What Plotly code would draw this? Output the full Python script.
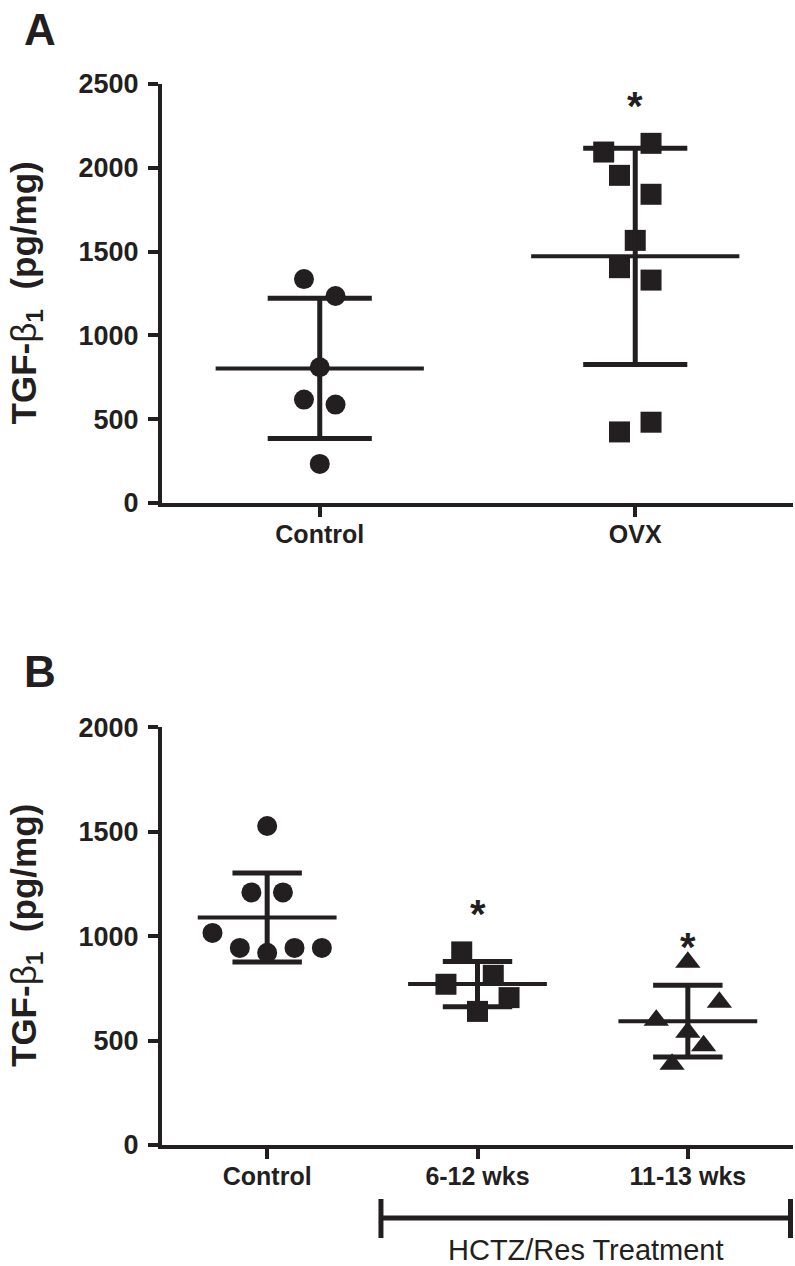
import numpy as np
import plotly.graph_objects as go

# ---------------- data ----------------
a_categories = ["Control", "OVX"]
a_control = [1336, 1235, 810, 617, 587, 233]
a_ovx = [2094, 2146, 1955, 1842, 1567, 1404, 1330, 482, 424]
a_ticks = [0, 500, 1000, 1500, 2000, 2500]
a_sig = ["", "*"]
a_sig_y = [None, 2420]

b_categories = ["Control", "6-12 wks", "11-13 wks"]
b_control = [1528, 1210, 1210, 1016, 944, 921, 944, 944]
b_6_12 = [925, 813, 770, 706, 640]
b_11_13 = [876, 684, 598, 540, 475, 387]
b_ticks = [0, 500, 1000, 1500, 2000]
b_sig = ["", "*", "*"]
b_sig_y = [None, 1150, 990]
b_bracket_label = "HCTZ/Res Treatment"

# horizontal scatter offsets of the points (category units)
a_control_jit = [-0.05, 0.05, 0, -0.05, 0.05, 0]
a_ovx_jit = [-0.1, 0.05, -0.05, 0.05, 0, -0.05, 0.05, 0.05, -0.05]
b_control_jit = [0, -0.075, 0.075, -0.26, -0.13, 0, 0.13, 0.26]
b_6_12_jit = [-0.075, 0.075, -0.15, 0.15, 0]
b_11_13_jit = [0, 0.15, -0.15, 0, 0.075, -0.075]

# ---------------- style ----------------
INK = "#231f20"
FONT = "Liberation Sans"
MEAN_HW = 0.33
CAP_HW = 0.165

fig = go.Figure()


def add_group(idx, vals, jit, symbol, size, xa, ya):
    vals = np.asarray(vals, dtype=float)
    m = vals.mean()
    sd = vals.std(ddof=1)
    fig.add_trace(go.Scatter(
        x=[idx + j for j in jit], y=vals, mode="markers",
        marker=dict(symbol=symbol, size=size, color=INK, line=dict(width=0)),
        xaxis=xa, yaxis=ya, hoverinfo="skip", cliponaxis=False))
    fig.add_trace(go.Scatter(
        x=[idx - MEAN_HW, idx + MEAN_HW], y=[m, m], mode="lines",
        line=dict(color=INK, width=4), xaxis=xa, yaxis=ya, hoverinfo="skip"))
    fig.add_trace(go.Scatter(
        x=[idx, idx, None, idx - CAP_HW, idx + CAP_HW, None, idx - CAP_HW, idx + CAP_HW],
        y=[m - sd, m + sd, None, m + sd, m + sd, None, m - sd, m - sd],
        mode="lines", line=dict(color=INK, width=5),
        xaxis=xa, yaxis=ya, hoverinfo="skip"))


add_group(0, a_control, a_control_jit, "circle", 20, "x", "y")
add_group(1, a_ovx, a_ovx_jit, "square", 21, "x", "y")
add_group(0, b_control, b_control_jit, "circle", 20, "x2", "y2")
add_group(1, b_6_12, b_6_12_jit, "square", 21, "x2", "y2")
add_group(2, b_11_13, b_11_13_jit, "triangle-up", 22, "x2", "y2")

annotations = []
star_font = dict(family=FONT, size=40, color=INK, weight="bold")
for i, (s, yv) in enumerate(zip(a_sig, a_sig_y)):
    if s:
        annotations.append(dict(x=i, y=yv, xref="x", yref="y", text=s, showarrow=False,
                                yshift=-9, font=star_font))
for i, (s, yv) in enumerate(zip(b_sig, b_sig_y)):
    if s:
        annotations.append(dict(x=i, y=yv, xref="x2", yref="y2", text=s, showarrow=False,
                                yshift=-9, font=star_font))

ytitle = "TGF-<span style='font-weight:normal'>β</span><sub>1</sub>&nbsp;&nbsp;(pg/mg)"
for yc in (0.8026, 0.197):
    annotations.append(dict(x=-0.2155, y=yc, xref="paper", yref="paper", text=ytitle,
                            textangle=-90, showarrow=False, xanchor="center", yanchor="middle",
                            font=dict(family=FONT, size=35, color=INK, weight="bold")))
annotations.append(dict(x=-0.1933, y=1.0518, xref="paper", yref="paper", text="A",
                        showarrow=False, xanchor="center", yanchor="middle",
                        font=dict(family=FONT, size=44, color=INK, weight="bold")))
annotations.append(dict(x=-0.1933, y=0.4467, xref="paper", yref="paper", text="B",
                        showarrow=False, xanchor="center", yanchor="middle",
                        font=dict(family=FONT, size=44, color=INK, weight="bold")))

# treatment bracket under panel B (paper coordinates)
br_l, br_r = 0.347, 0.996
br_y, cap_lo, cap_hi = -0.0688, -0.0877, -0.0509
shapes = [
    dict(type="line", xref="paper", yref="paper", x0=br_l, x1=br_r, y0=br_y, y1=br_y,
         line=dict(color=INK, width=5)),
    dict(type="line", xref="paper", yref="paper", x0=br_l, x1=br_l, y0=cap_lo, y1=cap_hi,
         line=dict(color=INK, width=5)),
    dict(type="line", xref="paper", yref="paper", x0=br_r, x1=br_r, y0=cap_lo, y1=cap_hi,
         line=dict(color=INK, width=5)),
]
annotations.append(dict(x=(br_l + br_r) / 2, y=-0.099, xref="paper", yref="paper",
                        text=b_bracket_label, showarrow=False, xanchor="center", yanchor="middle",
                        font=dict(family=FONT, size=29, color=INK)))

xcommon = dict(showline=True, linewidth=4, linecolor=INK, ticks="outside", ticklen=10,
               tickwidth=4, tickcolor=INK, showgrid=False, zeroline=False,
               tickfont=dict(family=FONT, size=25, color=INK, weight="bold"),
               ticklabelstandoff=-4)
ycommon = dict(showline=True, linewidth=4, linecolor=INK, ticks="outside", ticklen=10,
               tickwidth=4, tickcolor=INK, showgrid=False, zeroline=False,
               tickfont=dict(family=FONT, size=27, color=INK, weight="bold"),
               ticklabelstandoff=4)

fig.update_layout(
    width=795, height=1266,
    margin=dict(l=162, r=2, t=84, b=121),
    paper_bgcolor="white", plot_bgcolor="white",
    showlegend=False,
    xaxis=dict(domain=[0, 1], anchor="y", range=[-0.5, 1.5],
               tickvals=list(range(len(a_categories))), ticktext=a_categories, **xcommon),
    yaxis=dict(domain=[0.6051, 1], anchor="x", range=[0, 2500],
               tickvals=a_ticks, ticktext=[str(t) for t in a_ticks], **ycommon),
    xaxis2=dict(domain=[0, 1], anchor="y2", range=[-0.5, 2.5],
                tickvals=list(range(len(b_categories))), ticktext=b_categories, **xcommon),
    yaxis2=dict(domain=[0, 0.3935], anchor="x2", range=[0, 2000],
                tickvals=b_ticks, ticktext=[str(t) for t in b_ticks], **ycommon),
    annotations=annotations,
    shapes=shapes,
)

# remove the default page margin so the figure fills the 795x1266 window exactly
fig.write_html("out.html",
               config={"displayModeBar": False, "staticPlot": True},
               post_script="document.body.style.margin='0';"
                           "document.documentElement.style.overflow='hidden';")
